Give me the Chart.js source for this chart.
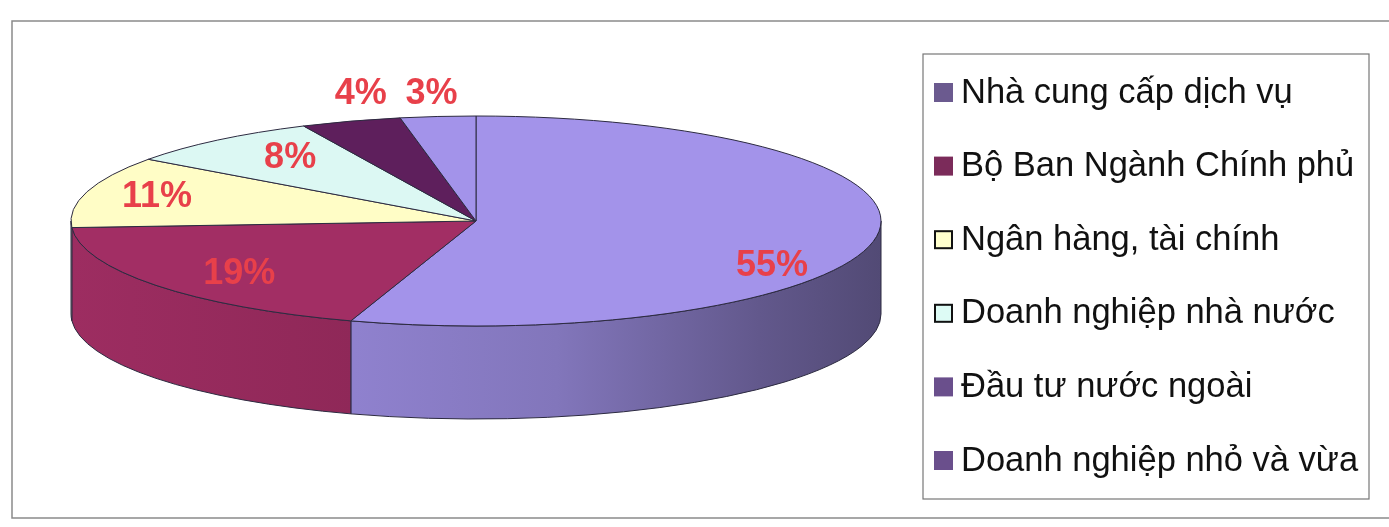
<!DOCTYPE html>
<html>
<head>
<meta charset="utf-8">
<script src="https://cdn.jsdelivr.net/npm/chart.js@4/dist/chart.umd.min.js"></script>
<style>
  html, body { margin: 0; padding: 0; background: #fff; }
  #wrap { width: 1389px; height: 527px; position: relative; }
</style>
</head>
<body>
<div id="wrap"><canvas id="pieChart"></canvas></div>
<script>
// dữ liệu
const categories = ['Nhà cung cấp dịch vụ', 'Bộ Ban Ngành Chính phủ', 'Ngân hàng, tài chính',
  'Doanh nghiệp nhà nước', 'Đầu tư nước ngoài', 'Doanh nghiệp nhỏ và vừa'];
const shares = [55, 19, 11, 8, 4, 3];

const sliceColors = ['#a393ea', '#a22e64', '#fffdc6', '#dcf8f3', '#5e1f5c', '#a393ea'];
const legendColors = ['#6b5a8f', '#7b2b5a', '#ffffcc', '#ddfbf5', '#6a4f8c', '#6a4f8c'];
const legendBorder = [false, false, true, true, false, false];

// hình học của bánh 3D
const PIE = { cx: 476, cy: 221, rx: 405, ry: 105, depth: 93 };
// vị trí nhãn: hệ số bán kính và độ lệch dọc
const labelRadius = [0.74, 0.74, 0.82, 0.72, 0.92, 1.17];
const labelShiftY = [33, 5, 0, -5, -35, -5];

function shade(hex, f) {
  const n = parseInt(hex.slice(1), 16);
  const r = Math.round(((n >> 16) & 255) * f);
  const g = Math.round(((n >> 8) & 255) * f);
  const b = Math.round((n & 255) * f);
  return `rgb(${r},${g},${b})`;
}

function drawPie3d(chart) {
  const ctx = chart.ctx;
  const arcs = chart.getDatasetMeta(0).data;
  const { cx, cy, rx, ry, depth } = PIE;
  const total = shares.reduce((a, b) => a + b, 0);

  ctx.save();
  ctx.lineWidth = 1;
  ctx.strokeStyle = '#2c2a40';
  ctx.lineJoin = 'round';

  // mặt bên
  arcs.forEach((arc, i) => {
    const a0 = Math.max(arc.startAngle, 0);
    const a1 = Math.min(arc.endAngle, Math.PI);
    if (a1 <= a0) return;
    const grad = ctx.createLinearGradient(cx - rx, 0, cx + rx, 0);
    grad.addColorStop(0, shade(sliceColors[i], 0.97));
    grad.addColorStop(0.35, shade(sliceColors[i], 0.88));
    grad.addColorStop(0.6, shade(sliceColors[i], 0.8));
    grad.addColorStop(0.85, shade(sliceColors[i], 0.6));
    grad.addColorStop(1, shade(sliceColors[i], 0.5));
    ctx.beginPath();
    ctx.ellipse(cx, cy, rx, ry, 0, a0, a1, false);
    ctx.lineTo(cx + rx * Math.cos(a1), cy + ry * Math.sin(a1) + depth);
    ctx.ellipse(cx, cy + depth, rx, ry, 0, a1, a0, true);
    ctx.closePath();
    ctx.fillStyle = grad;
    ctx.fill();
    ctx.stroke();
  });

  // mặt trên
  arcs.forEach((arc, i) => {
    ctx.beginPath();
    ctx.moveTo(cx, cy);
    ctx.ellipse(cx, cy, rx, ry, 0, arc.startAngle, arc.endAngle, false);
    ctx.closePath();
    ctx.fillStyle = sliceColors[i];
    ctx.fill();
    ctx.stroke();
  });

  // nhãn phần trăm
  ctx.font = 'bold 36px "Liberation Sans", Arial, sans-serif';
  ctx.fillStyle = '#e8404a';
  ctx.textAlign = 'center';
  ctx.textBaseline = 'middle';
  arcs.forEach((arc, i) => {
    const mid = (arc.startAngle + arc.endAngle) / 2;
    const x = cx + rx * labelRadius[i] * Math.cos(mid);
    const y = cy + ry * labelRadius[i] * Math.sin(mid) + labelShiftY[i];
    ctx.fillText(Math.round(shares[i] / total * 100) + '%', x, y);
  });
  ctx.restore();
}

function drawFrameAndLegend(chart) {
  const ctx = chart.ctx;
  ctx.save();
  // khung ngoài
  ctx.strokeStyle = '#8a8a8a';
  ctx.lineWidth = 1.5;
  ctx.beginPath();
  ctx.moveTo(1389, 21);
  ctx.lineTo(12, 21);
  ctx.lineTo(12, 518);
  ctx.lineTo(1389, 518);
  ctx.stroke();

  // khung chú giải
  ctx.strokeStyle = '#777';
  ctx.lineWidth = 1.2;
  ctx.strokeRect(923, 54, 446, 445);

  ctx.font = '34.5px "Liberation Sans", Arial, sans-serif';
  ctx.textAlign = 'left';
  ctx.textBaseline = 'middle';
  chart.data.labels.forEach((label, i) => {
    const y = 92 + i * 73.6;
    ctx.fillStyle = legendColors[i];
    ctx.fillRect(934, y - 9, 19, 19);
    if (legendBorder[i]) {
      ctx.strokeStyle = '#111';
      ctx.lineWidth = 2;
      ctx.strokeRect(935, y - 8, 17, 17);
    }
    ctx.fillStyle = '#111';
    ctx.fillText(label, 961, y + 1);
  });
  ctx.restore();
}

const pie3d = {
  id: 'pie3d',
  beforeDatasetsDraw(chart) {
    drawPie3d(chart);
    return false;
  },
  afterDraw(chart) {
    drawFrameAndLegend(chart);
  }
};

new Chart(document.getElementById('pieChart'), {
  type: 'pie',
  data: {
    labels: categories,
    datasets: [{
      data: shares,
      backgroundColor: sliceColors,
      borderWidth: 0
    }]
  },
  options: {
    responsive: true,
    maintainAspectRatio: false,
    animation: false,
    plugins: {
      legend: { display: false },
      tooltip: { enabled: false }
    }
  },
  plugins: [pie3d]
});
</script>
</body>
</html>
